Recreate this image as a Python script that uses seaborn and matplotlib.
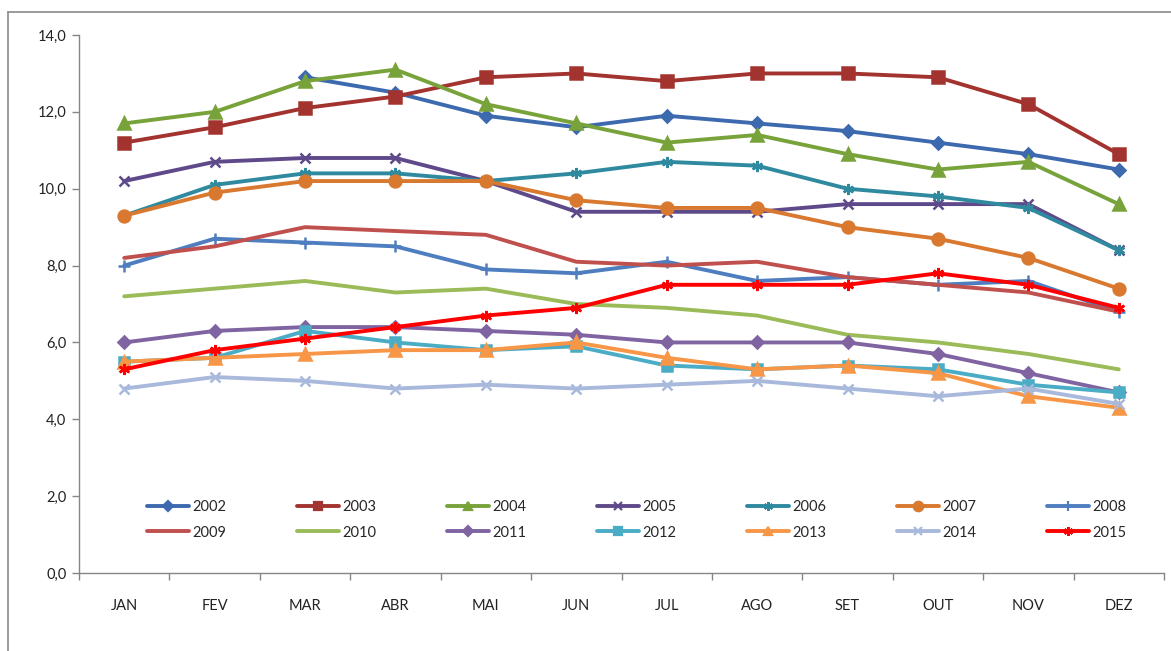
import numpy as np
import pandas as pd
import matplotlib
matplotlib.use("Agg")
import matplotlib.pyplot as plt
from matplotlib.lines import Line2D
from matplotlib.ticker import FuncFormatter, FixedLocator
import seaborn as sns

months = ["JAN", "FEV", "MAR", "ABR", "MAI", "JUN", "JUL", "AGO", "SET", "OUT", "NOV", "DEZ"]

y2002 = [np.nan, np.nan, 12.9, 12.5, 11.9, 11.6, 11.9, 11.7, 11.5, 11.2, 10.9, 10.5]
y2003 = [11.2, 11.6, 12.1, 12.4, 12.9, 13.0, 12.8, 13.0, 13.0, 12.9, 12.2, 10.9]
y2004 = [11.7, 12.0, 12.8, 13.1, 12.2, 11.7, 11.2, 11.4, 10.9, 10.5, 10.7, 9.6]
y2005 = [10.2, 10.7, 10.8, 10.8, 10.2, 9.4, 9.4, 9.4, 9.6, 9.6, 9.6, 8.4]
y2006 = [9.3, 10.1, 10.4, 10.4, 10.2, 10.4, 10.7, 10.6, 10.0, 9.8, 9.5, 8.4]
y2007 = [9.3, 9.9, 10.2, 10.2, 10.2, 9.7, 9.5, 9.5, 9.0, 8.7, 8.2, 7.4]
y2008 = [8.0, 8.7, 8.6, 8.5, 7.9, 7.8, 8.1, 7.6, 7.7, 7.5, 7.6, 6.8]
y2009 = [8.2, 8.5, 9.0, 8.9, 8.8, 8.1, 8.0, 8.1, 7.7, 7.5, 7.3, 6.8]
y2010 = [7.2, 7.4, 7.6, 7.3, 7.4, 7.0, 6.9, 6.7, 6.2, 6.0, 5.7, 5.3]
y2011 = [6.0, 6.3, 6.4, 6.4, 6.3, 6.2, 6.0, 6.0, 6.0, 5.7, 5.2, 4.7]
y2012 = [5.5, 5.6, 6.3, 6.0, 5.8, 5.9, 5.4, 5.3, 5.4, 5.3, 4.9, 4.7]
y2013 = [5.5, 5.6, 5.7, 5.8, 5.8, 6.0, 5.6, 5.3, 5.4, 5.2, 4.6, 4.3]
y2014 = [4.8, 5.1, 5.0, 4.8, 4.9, 4.8, 4.9, 5.0, 4.8, 4.6, 4.8, 4.4]
y2015 = [5.3, 5.8, 6.1, 6.4, 6.7, 6.9, 7.5, 7.5, 7.5, 7.8, 7.5, 6.9]

years = ["2002", "2003", "2004", "2005", "2006", "2007", "2008",
         "2009", "2010", "2011", "2012", "2013", "2014", "2015"]
series = [y2002, y2003, y2004, y2005, y2006, y2007, y2008,
          y2009, y2010, y2011, y2012, y2013, y2014, y2015]

colors = {
    "2002": "#3D69AE", "2003": "#A3332F", "2004": "#78A23A", "2005": "#5E4A8A",
    "2006": "#2F8AA0", "2007": "#D9782F", "2008": "#4E7EBF", "2009": "#C0504D",
    "2010": "#9BBB59", "2011": "#8064A2", "2012": "#4BACC6", "2013": "#F79646",
    "2014": "#A8B9DB", "2015": "#FF0000",
}
asterisk = (6, 2, 0)
markers = {
    "2002": ("D", 6.5), "2003": ("s", 8), "2004": ("^", 8), "2005": ("x", 7),
    "2006": (asterisk, 8), "2007": ("o", 8.5), "2008": ("+", 9), "2009": (None, 0),
    "2010": (None, 0), "2011": ("D", 6.5), "2012": ("s", 7.5), "2013": ("^", 8),
    "2014": ("x", 7), "2015": (asterisk, 8),
}

sns.set_theme(style="white")
plt.rcParams["font.family"] = ["Lato", "DejaVu Sans"]

fig = plt.figure(figsize=(11.71, 6.51), dpi=100)
ax = fig.add_axes([0.0675, 0.1198, 0.9265, 0.8264])

xpos = np.arange(len(months))
handles = {}
for yr, vals in zip(years, series):
    df = pd.DataFrame({"x": xpos, "y": vals}).dropna()
    mk, ms = markers[yr]
    sns.lineplot(data=df, x="x", y="y", ax=ax, color=colors[yr], lw=2.8,
                 marker=mk, markersize=ms, markeredgewidth=1.8,
                 markeredgecolor=colors[yr], markerfacecolor=colors[yr],
                 legend=False, zorder=3)
    handles[yr] = Line2D([], [], color=colors[yr], lw=2.8, marker=mk,
                         markersize=ms * 0.8, markeredgewidth=1.6,
                         markeredgecolor=colors[yr], markerfacecolor=colors[yr])

ax.set_xlim(-0.5, len(months) - 0.5)
ax.set_ylim(0, 14)
ax.set_xlabel("")
ax.set_ylabel("")

ax.xaxis.set_major_locator(FixedLocator(xpos))
ax.set_xticklabels(months)
ax.xaxis.set_minor_locator(FixedLocator(np.arange(len(months) + 1) - 0.5))
ax.tick_params(axis="x", which="major", length=0, pad=19, labelsize=10.5, colors="#222222")
ax.tick_params(axis="x", which="minor", length=5, width=1, color="#868686", bottom=True)
ax.set_yticks(np.arange(0, 14.1, 2))
ax.yaxis.set_major_formatter(FuncFormatter(lambda v, p: f"{v:.1f}".replace(".", ",")))
ax.tick_params(axis="y", length=5, width=1, color="#868686", left=True, pad=4,
               labelsize=10.5, labelcolor="#222222")

for side in ["top", "right"]:
    ax.spines[side].set_visible(False)
for side in ["left", "bottom"]:
    ax.spines[side].set_color("#868686")
    ax.spines[side].set_linewidth(1.0)
ax.grid(False)

# legend: first row 2002-2008, second row 2009-2015
order = []
for i in range(7):
    order += [years[i], years[i + 7]]
leg = ax.legend([handles[y] for y in order], order, ncol=7, loc="center",
                bbox_to_anchor=(0.514, 0.099), frameon=False, fontsize=10.5,
                handlelength=2.9, handletextpad=0.2, columnspacing=4.85,
                labelspacing=0.8)

# chart-area border
fig.add_artist(Line2D([0.0068, 1.0], [0.9816, 0.9816], color="#8a8a8a", lw=1.2))
fig.add_artist(Line2D([0.0068, 0.0068], [0.0, 0.9816], color="#8a8a8a", lw=1.2))

fig.savefig("out.png", dpi=100, facecolor="white")
